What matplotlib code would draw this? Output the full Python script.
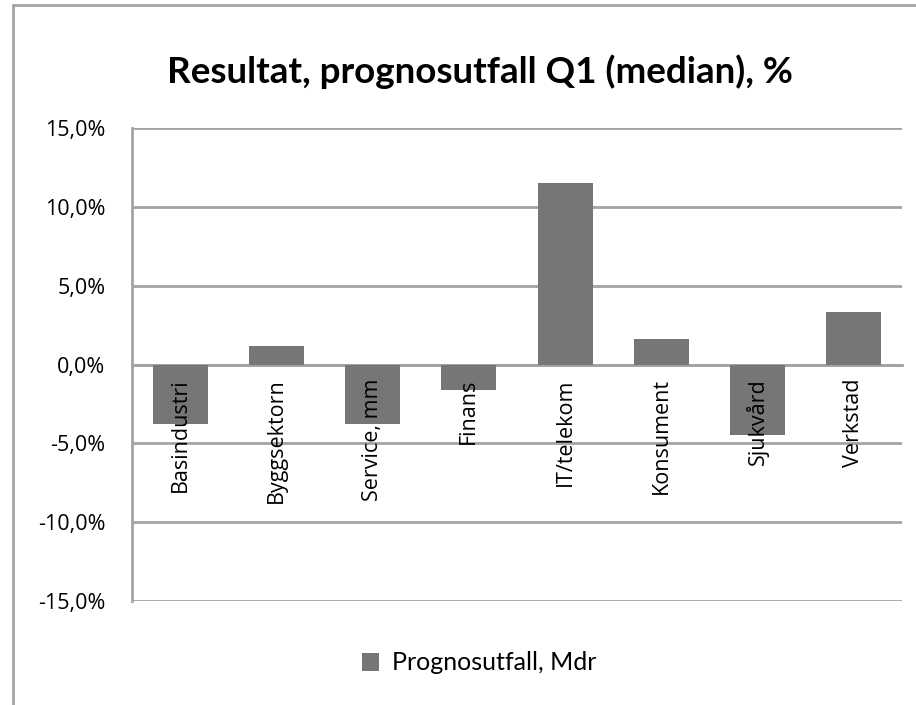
import matplotlib.pyplot as plt
from matplotlib.patches import Rectangle
from matplotlib.ticker import FuncFormatter, MultipleLocator

# data
categories = ["Basindustri", "Byggsektorn", "Service, mm", "Finans",
              "IT/telekom", "Konsument", "Sjukvård", "Verkstad"]
values = [-3.8, 1.2, -3.8, -1.6, 11.5, 1.6, -4.5, 3.3]
series_name = "Prognosutfall, Mdr"
title = "Resultat, prognosutfall Q1 (median), %"

bar_color = "#767676"
grid_color = "#a3a3a3"

fig = plt.figure(figsize=(9.16, 7.05), dpi=100)
ax = fig.add_axes([132/916, 1-601/705, (902-132)/916, (601-128)/705])

x = list(range(len(categories)))
ax.bar(x, values, width=0.57, color=bar_color, zorder=1, label=series_name)

# spine position first: moving it resets the ticks
ax.spines["bottom"].set_position(("data", 0))
ax.spines["bottom"].set_color(grid_color)
ax.spines["bottom"].set_linewidth(2)
ax.spines["left"].set_color(grid_color)
ax.spines["left"].set_linewidth(2)
ax.spines["top"].set_visible(False)
ax.spines["right"].set_visible(False)

ax.set_xlim(-0.5, len(categories)-0.5)
ax.set_ylim(-15, 15)
ax.yaxis.set_major_locator(MultipleLocator(5))
ax.yaxis.set_major_formatter(FuncFormatter(lambda v, p: f"{v:.1f}%".replace(".", ",")))
ax.grid(axis="y", color=grid_color, linewidth=2)

ax.set_xticks(x)
ax.set_xticklabels(categories)
ax.tick_params(axis="x", length=0, pad=10, labelsize=15.5, labelrotation=90,
               labelfontfamily="Open Sans")
ax.tick_params(axis="y", length=0, pad=19, labelsize=15.5,
               labelfontfamily="Open Sans")

# gridlines behind bars, category labels on top of them
ax.yaxis.set_zorder(0.5)
ax.xaxis.set_zorder(3)
ax.spines["bottom"].set_zorder(0.6)

fig.text(480/916, 1-72/705, title, ha="center", va="center",
         fontsize=26.5, fontweight="bold", family="Lato")

fig.legend(loc="center", bbox_to_anchor=(479/916, 1-663/705), frameon=False,
           handlelength=0.7, handleheight=0.7, handletextpad=0.5,
           prop={"family": "Lato", "size": 18})

fig.patches.append(Rectangle((13/916, -0.5), 2, 1.5 - 5/705, transform=fig.transFigure,
                             fill=False, edgecolor=grid_color, linewidth=2))

fig.savefig("out.png", dpi=100)
